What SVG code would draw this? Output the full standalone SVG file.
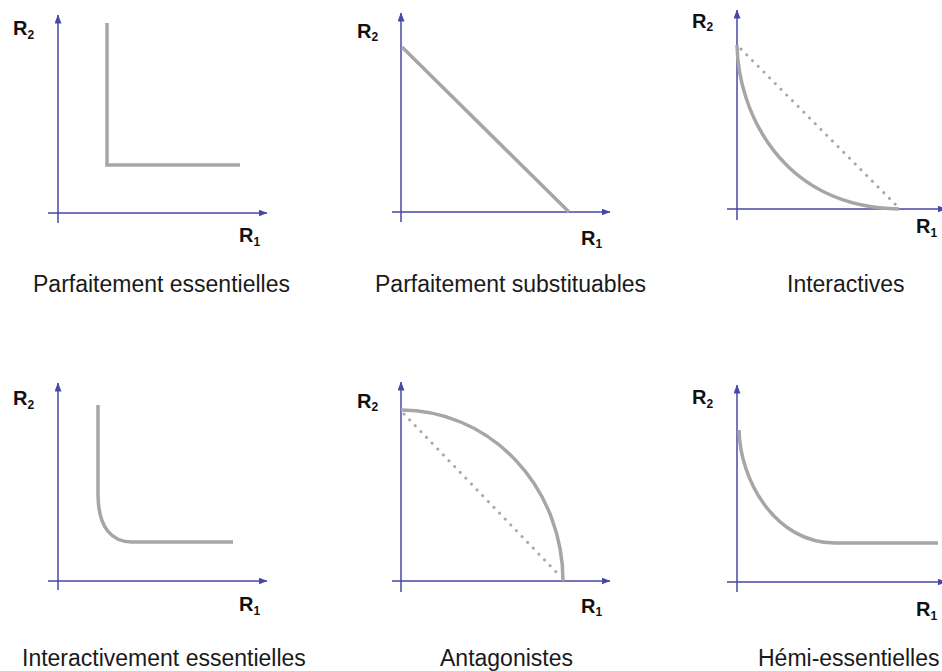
<svg xmlns="http://www.w3.org/2000/svg" width="942" height="671" viewBox="0 0 942 671">
<defs>
<marker id="arr" markerUnits="userSpaceOnUse" markerWidth="9" markerHeight="7" refX="8.5" refY="3.5" orient="auto">
<path d="M0,0 L9,3.5 L0,7 z" fill="#4747a8"/>
</marker>
<style>
.axa{stroke:#4747a8;stroke-width:1.5;fill:none;marker-end:url(#arr)}
.cv{stroke:#a6a6a6;stroke-width:3.5;fill:none;stroke-linecap:butt}
.dot{stroke:#a9a9a9;stroke-width:3;fill:none;stroke-linecap:round;stroke-dasharray:0.1 8}
.R{font-family:"Liberation Sans",Arial,sans-serif;font-weight:bold;font-size:20px;fill:#111}
.sub{font-size:12px}
.lab{font-family:"Liberation Sans",Arial,sans-serif;font-size:23px;fill:#1a1a1a}
</style>
</defs>
<rect width="942" height="671" fill="#ffffff"/>

<g id="panel1">
<line class="axa" x1="58" y1="223" x2="58" y2="15"/>
<line class="axa" x1="48" y1="213" x2="267" y2="213"/>
<path class="cv" d="M107,23 L107,165 L240,165" stroke-width="4"/>
<text class="R" x="13" y="35">R<tspan class="sub" dy="4">2</tspan></text>
<text class="R" x="239" y="242">R<tspan class="sub" dy="4">1</tspan></text>
<text class="lab" x="33" y="292">Parfaitement essentielles</text>
</g>

<g id="panel2">
<line class="axa" x1="401" y1="222" x2="401" y2="13"/>
<line class="axa" x1="392" y1="212" x2="610" y2="212"/>
<path class="cv" d="M402,47 L569,212" stroke-width="4"/>
<text class="R" x="357" y="38">R<tspan class="sub" dy="3">2</tspan></text>
<text class="R" x="581" y="245">R<tspan class="sub" dy="3">1</tspan></text>
<text class="lab" x="375" y="292">Parfaitement substituables</text>
</g>

<g id="panel3">
<line class="axa" x1="737" y1="220" x2="737" y2="10"/>
<line class="axa" x1="727" y1="209" x2="946" y2="209"/>
<path class="dot" d="M741,49 L897,206"/>
<path class="cv" d="M737,45 C738,110 780,207 899,209"/>
<text class="R" x="692" y="28">R<tspan class="sub" dy="3">2</tspan></text>
<text class="R" x="916" y="233">R<tspan class="sub" dy="4">1</tspan></text>
<text class="lab" x="787" y="292">Interactives</text>
</g>

<g id="panel4">
<line class="axa" x1="58" y1="590" x2="58" y2="383"/>
<line class="axa" x1="48" y1="581" x2="267" y2="581"/>
<path class="cv" d="M98,405 L98,494 C98,528 112,542 132,542 L233,542"/>
<text class="R" x="13" y="405">R<tspan class="sub" dy="4">2</tspan></text>
<text class="R" x="239" y="611">R<tspan class="sub" dy="4">1</tspan></text>
<text class="lab" x="22" y="666">Interactivement essentielles</text>
</g>

<g id="panel5">
<line class="axa" x1="401" y1="592" x2="401" y2="382"/>
<line class="axa" x1="392" y1="581" x2="610" y2="581"/>
<path class="dot" d="M404,414 L561,577"/>
<path class="cv" d="M401,410 A162,171 0 0 1 563,581"/>
<text class="R" x="357" y="408">R<tspan class="sub" dy="3">2</tspan></text>
<text class="R" x="581" y="613">R<tspan class="sub" dy="3">1</tspan></text>
<text class="lab" x="440" y="666">Antagonistes</text>
</g>

<g id="panel6">
<line class="axa" x1="737" y1="592" x2="737" y2="385"/>
<line class="axa" x1="727" y1="582" x2="946" y2="582"/>
<path class="cv" d="M739,430 C740,480 775,543 835,543 L938,543"/>
<text class="R" x="692" y="404">R<tspan class="sub" dy="4">2</tspan></text>
<text class="R" x="916" y="616">R<tspan class="sub" dy="4">1</tspan></text>
<text class="lab" x="758" y="666">Hémi-essentielles</text>
</g>
</svg>
